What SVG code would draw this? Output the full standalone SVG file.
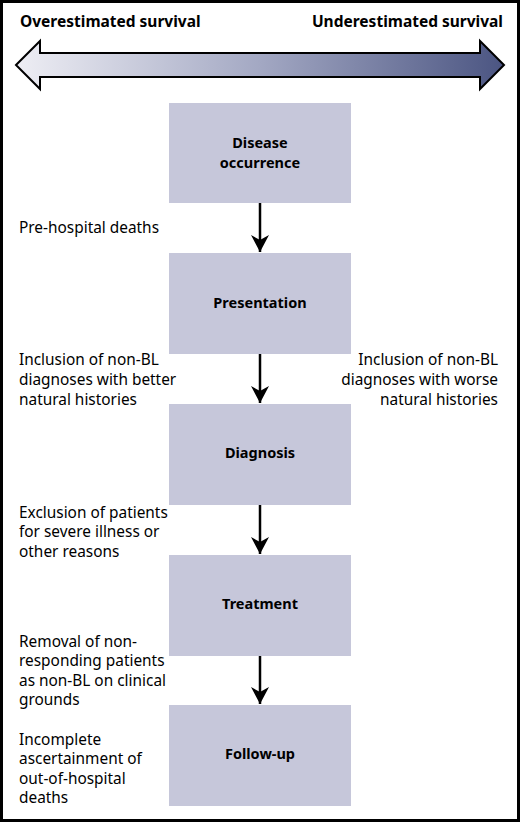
<svg xmlns="http://www.w3.org/2000/svg" width="520" height="822" viewBox="0 0 520 822">
<defs>
<linearGradient id="g" x1="0" x2="1" y1="0" y2="0">
<stop offset="0" stop-color="#eeeef4"/>
<stop offset="0.5" stop-color="#a3a8c3"/>
<stop offset="1" stop-color="#4b5582"/>
</linearGradient>
<marker id="ah" markerWidth="18" markerHeight="20" viewBox="0 0 18 20" refX="17" refY="10" orient="auto" markerUnits="userSpaceOnUse">
<path d="M0,1 L17,10 L0,19 L5,10 Z" fill="#000"/>
</marker>
<style>
.box{fill:#c6c7da}
.lbl{font-family:"Noto Sans","Liberation Sans",sans-serif;font-weight:bold;font-size:14.5px;text-anchor:middle;fill:#000}
.t{font-family:"Noto Sans","Liberation Sans",sans-serif;font-size:15.4px;fill:#000}
.h{font-family:"Noto Sans","Liberation Sans",sans-serif;font-weight:bold;font-size:15.5px;fill:#000}
.c{stroke:#000;stroke-width:2.5;fill:none;marker-end:url(#ah)}
</style>
</defs>
<rect x="0" y="0" width="520" height="822" fill="#fff"/>
<rect x="1.5" y="1.5" width="517" height="819" fill="none" stroke="#000" stroke-width="3"/>
<g id="scale">
<text class="h" x="20" y="27">Overestimated survival</text>
<text class="h" x="503" y="27" text-anchor="end">Underestimated survival</text>
<path d="M16,65 L40,41 L40,53 L480,53 L480,41 L504,65 L480,89 L480,77 L40,77 L40,89 Z" fill="url(#g)" stroke="#000" stroke-width="2"/>
</g>
<g id="n1"><rect class="box" x="169" y="103" width="182" height="100"/><text class="lbl" x="260" y="148">Disease</text><text class="lbl" x="260" y="168">occurrence</text></g>
<g id="n2"><rect class="box" x="169" y="253" width="182" height="101"/><text class="lbl" x="260" y="308">Presentation</text></g>
<g id="n3"><rect class="box" x="169" y="404" width="182" height="101"/><text class="lbl" x="260" y="458">Diagnosis</text></g>
<g id="n4"><rect class="box" x="169" y="555" width="182" height="101"/><text class="lbl" x="260" y="609">Treatment</text></g>
<g id="n5"><rect class="box" x="169" y="705" width="182" height="101"/><text class="lbl" x="260" y="759">Follow-up</text></g>
<g id="connectors">
<line class="c" x1="260" y1="203" x2="260" y2="252"/>
<line class="c" x1="260" y1="354" x2="260" y2="403"/>
<line class="c" x1="260" y1="505" x2="260" y2="554"/>
<line class="c" x1="260" y1="656" x2="260" y2="704"/>
</g>
<g id="notes">
<text class="t" x="19" y="233">Pre-hospital deaths</text>
<text class="t" x="19" y="365">Inclusion of non-BL</text>
<text class="t" x="19" y="385">diagnoses with better</text>
<text class="t" x="19" y="405">natural histories</text>
<text class="t" x="498" y="365" text-anchor="end">Inclusion of non-BL</text>
<text class="t" x="498" y="385" text-anchor="end">diagnoses with worse</text>
<text class="t" x="498" y="405" text-anchor="end">natural histories</text>
<text class="t" x="19" y="518">Exclusion of patients</text>
<text class="t" x="19" y="537">for severe illness or</text>
<text class="t" x="19" y="557">other reasons</text>
<text class="t" x="19" y="647">Removal of non-</text>
<text class="t" x="19" y="666">responding patients</text>
<text class="t" x="19" y="686">as non-BL on clinical</text>
<text class="t" x="19" y="705">grounds</text>
<text class="t" x="19" y="745">Incomplete</text>
<text class="t" x="19" y="764">ascertainment of</text>
<text class="t" x="19" y="784">out-of-hospital</text>
<text class="t" x="19" y="803">deaths</text>
</g>
</svg>
